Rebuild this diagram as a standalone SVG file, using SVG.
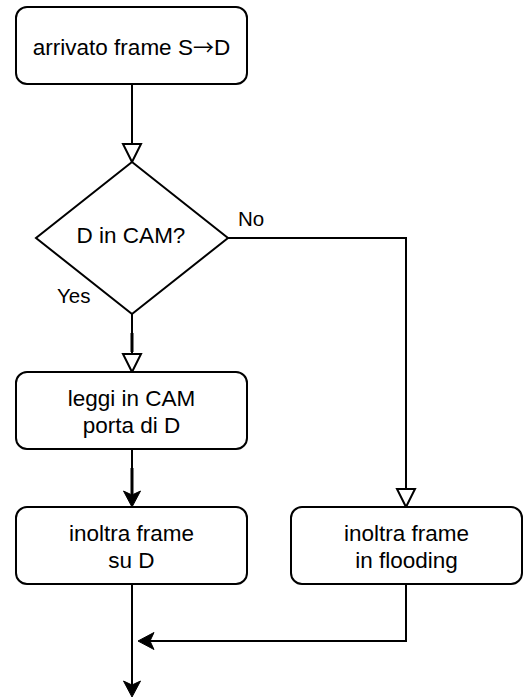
<svg xmlns="http://www.w3.org/2000/svg" width="532" height="699" viewBox="0 0 532 699">
  <style>
    .box { fill: #ffffff; stroke: #000000; stroke-width: 2; }
    .lbl { font-family: "Liberation Sans", Arial, Helvetica, sans-serif; font-size: 22.5px; fill: #000000; text-anchor: middle; }
    .arrowglyph { font-family: "Noto Sans CJK JP", "DejaVu Sans", sans-serif; font-size: 21px; }
    .edge-lbl { font-family: "Liberation Sans", Arial, Helvetica, sans-serif; font-size: 20.5px; fill: #000000; }
    .conn { fill: none; stroke: #000000; stroke-width: 2; }
    .thick { fill: none; stroke: #000000; stroke-width: 3; }
  </style>
  <defs>
    <marker id="open" markerUnits="userSpaceOnUse" viewBox="-20 -11 22 22" markerWidth="22" markerHeight="22" refX="-18" refY="0" orient="auto" overflow="visible">
      <path d="M0,0 L-18,-9 L-18,9 Z" fill="#ffffff" stroke="#000000" stroke-width="2" stroke-linejoin="miter"/>
    </marker>
    <marker id="classic" markerUnits="userSpaceOnUse" viewBox="-18 -10 20 20" markerWidth="20" markerHeight="20" refX="-12" refY="0" orient="auto" overflow="visible">
      <path d="M0,0 L-16,-8.5 L-12,0 L-16,8.5 Z" fill="#000000" stroke="#000000" stroke-width="1"/>
    </marker>
  </defs>
  <rect width="532" height="699" fill="#ffffff"/>

  <g id="connectors">
    <path class="conn" d="M132,84 L132,144" marker-end="url(#open)"/>
    <path class="conn" d="M132,314 L132,354" marker-end="url(#open)"/>
    <path class="thick" d="M132,333 L132,352"/>
    <path class="conn" d="M228,238 L406,238 L406,489" marker-end="url(#open)"/>
    <path class="conn" d="M132,449 L132,495" marker-end="url(#classic)"/>
    <path class="thick" d="M132,468 L132,494"/>
    <path class="conn" d="M132,584 L132,685" marker-end="url(#classic)"/>
    <path class="conn" d="M406,584 L406,641 L150,641" marker-end="url(#classic)"/>
    <text class="edge-lbl" x="238" y="226">No</text>
    <text class="edge-lbl" x="57" y="303">Yes</text>
  </g>

  <g id="start">
    <rect class="box" x="16" y="7" width="231" height="77" rx="11" ry="11"/>
    <text class="lbl" x="131.5" y="55">arrivato frame S<tspan class="arrowglyph">→</tspan>D</text>
  </g>

  <g id="decision">
    <path class="box" d="M132,162 L228,238 L132,314 L36,238 Z"/>
    <text class="lbl" x="131" y="243">D in CAM?</text>
  </g>

  <g id="read-cam">
    <rect class="box" x="16" y="372" width="231" height="77" rx="11" ry="11"/>
    <text class="lbl" x="131.5" y="406">leggi in CAM</text>
    <text class="lbl" x="131.5" y="433">porta di D</text>
  </g>

  <g id="forward-d">
    <rect class="box" x="16" y="507" width="231" height="77" rx="11" ry="11"/>
    <text class="lbl" x="131.5" y="541">inoltra frame</text>
    <text class="lbl" x="131.5" y="568">su D</text>
  </g>

  <g id="flooding">
    <rect class="box" x="291" y="507" width="231" height="77" rx="11" ry="11"/>
    <text class="lbl" x="406.5" y="541">inoltra frame</text>
    <text class="lbl" x="406.5" y="568">in flooding</text>
  </g>
</svg>
